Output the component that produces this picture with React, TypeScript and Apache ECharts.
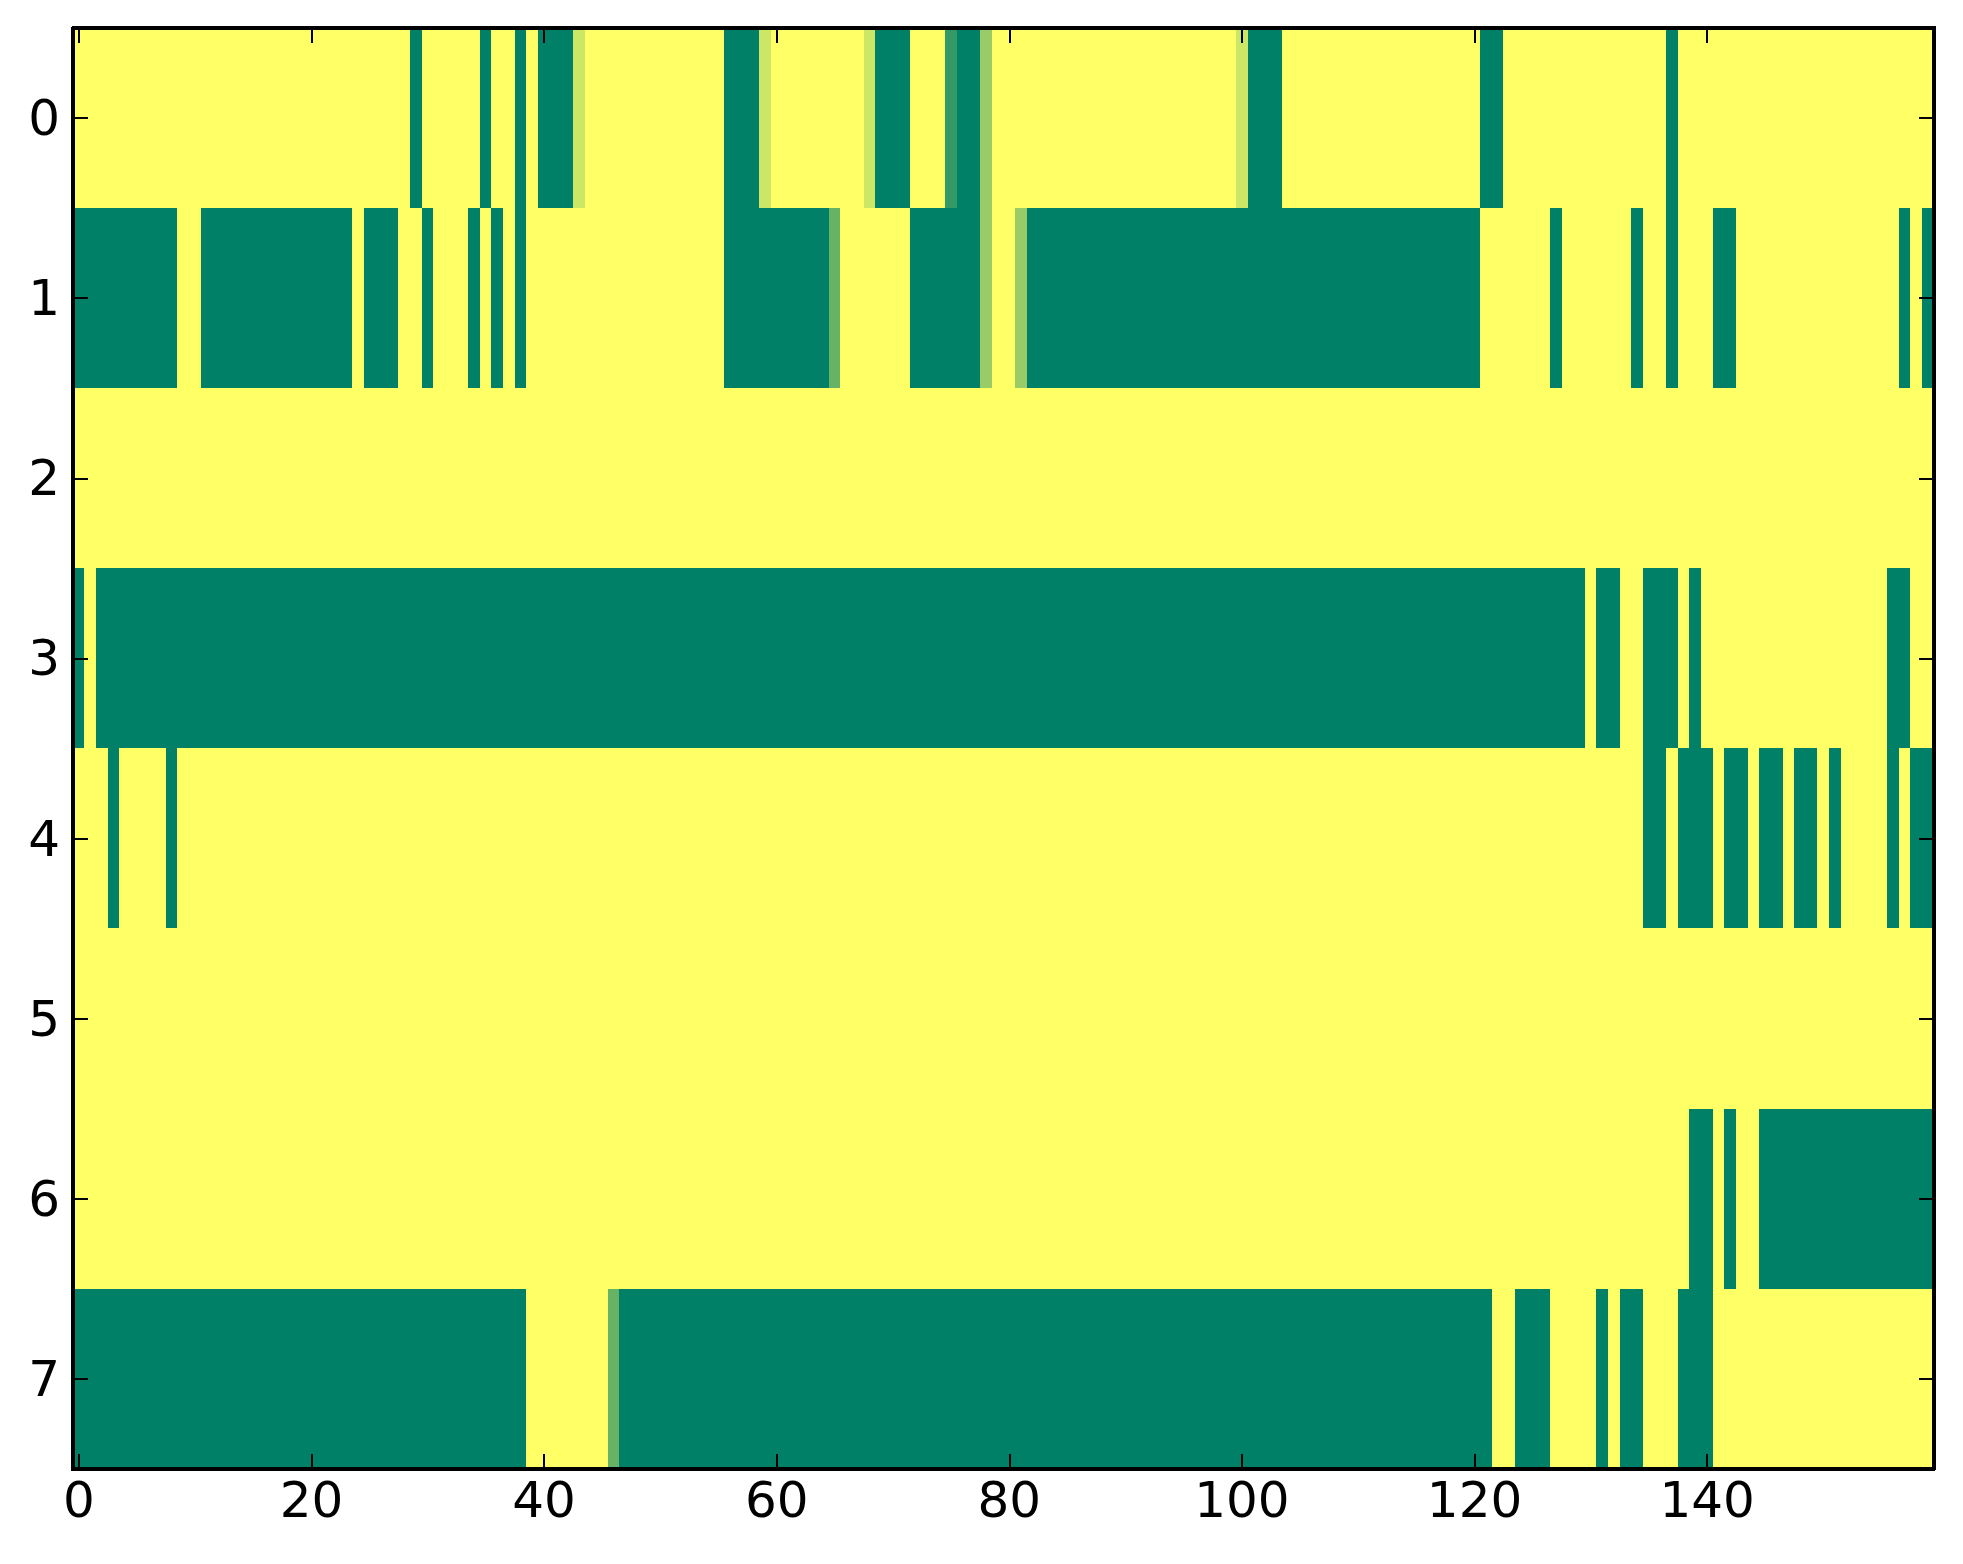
import * as echarts from "echarts";
import { useEffect, useRef } from "react";

// each digit is one cell, value = digit / 5 (0 = green, 5 = yellow)
const row0 = "5555555555 5555555555 5555555550 5555505505 0004555555 5555550004 5555555540 0055510035 5555555555 5555555555 4000555555 5555555555 5005555555 5555555055 5555555555 5555555555";
const row1 = "0000000005 5000000000 0000500055 0555050505 5555555555 5555550000 0000025555 5500000035 5300000000 0000000000 0000000000 0000000000 0555555055 5555055055 5005555555 5555555050";
const row2 = "5555555555 5555555555 5555555555 5555555555 5555555555 5555555555 5555555555 5555555555 5555555555 5555555555 5555555555 5555555555 5555555555 5555555555 5555555555 5555555555";
const row3 = "0500000000 0000000000 0000000000 0000000000 0000000000 0000000000 0000000000 0000000000 0000000000 0000000000 0000000000 0000000000 0000000000 5005500050 5555555555 5555550055";
const row4 = "5550555505 5555555555 5555555555 5555555555 5555555555 5555555555 5555555555 5555555555 5555555555 5555555555 5555555555 5555555555 5555555555 5555500500 0500500500 5055550500";
const row5 = "5555555555 5555555555 5555555555 5555555555 5555555555 5555555555 5555555555 5555555555 5555555555 5555555555 5555555555 5555555555 5555555555 5555555555 5555555555 5555555555";
const row6 = "5555555555 5555555555 5555555555 5555555555 5555555555 5555555555 5555555555 5555555555 5555555555 5555555555 5555555555 5555555555 5555555555 5555555550 0505500000 0000000000";
const row7 = "0000000000 0000000000 0000000000 0000000005 5555552000 0000000000 0000000000 0000000000 0000000000 0000000000 0000000000 0000000000 0055000555 5050055500 0555555555 5555555555";

const rows = [row0, row1, row2, row3, row4, row5, row6, row7];
const xCategories = Array.from({ length: 160 }, (_, i) => String(i));
const yCategories = ["0", "1", "2", "3", "4", "5", "6", "7"];

function App() {
  const chartRef = useRef(null);

  useEffect(() => {
    const chart = echarts.init(chartRef.current, null, { renderer: "svg" });

    const data = [];
    rows.forEach((r, y) => {
      r.replace(/ /g, "")
        .split("")
        .forEach((ch, x) => data.push([x, y, Number(ch) / 5]));
    });

    const font = { fontFamily: "DejaVu Sans", fontSize: 50, color: "#000" };
    const line = { show: true, lineStyle: { color: "#000", width: 4 } };
    const tick = { show: true, inside: true, length: 15, lineStyle: { color: "#000", width: 2 } };
    const every20 = (i) => i % 20 === 0;

    chart.setOption({
      animation: false,
      backgroundColor: "#fff",
      grid: { left: 73, top: 28, width: 1861, height: 1441 },
      visualMap: {
        show: false,
        min: 0,
        max: 1,
        calculable: false,
        inRange: { color: ["#008066", "#ffff66"] },
      },
      xAxis: [
        {
          type: "category",
          data: xCategories,
          position: "bottom",
          z: 50,
          axisLine: line,
          axisTick: { ...tick, alignWithLabel: true, interval: every20 },
          axisLabel: { ...font, margin: 6, interval: every20 },
          splitLine: { show: false },
        },
        {
          type: "category",
          data: xCategories,
          position: "top",
          z: 50,
          axisLine: line,
          axisTick: { ...tick, alignWithLabel: true, interval: every20 },
          axisLabel: { show: false },
          splitLine: { show: false },
        },
      ],
      yAxis: [
        {
          type: "category",
          data: yCategories,
          inverse: true,
          position: "left",
          z: 50,
          axisLine: line,
          axisTick: { ...tick, alignWithLabel: true },
          axisLabel: { ...font, margin: 13 },
          splitLine: { show: false },
        },
        {
          type: "category",
          data: yCategories,
          inverse: true,
          position: "right",
          z: 50,
          axisLine: line,
          axisTick: { ...tick, alignWithLabel: true },
          axisLabel: { show: false },
          splitLine: { show: false },
        },
      ],
      series: [
        {
          type: "heatmap",
          xAxisIndex: 0,
          yAxisIndex: 0,
          z: 1,
          data,
          itemStyle: { borderWidth: 0 },
          emphasis: { disabled: true },
        },
      ],
    });

    return () => {
      chart.dispose();
    };
  }, []);

  return (
    <>
      <style>{".heat svg path { shape-rendering: crispEdges; }"}</style>
      <div
        className="heat"
        ref={chartRef}
        style={{ position: "fixed", left: 0, top: 0, width: "1963px", height: "1564px" }}
      />
    </>
  );
}

export default App;
